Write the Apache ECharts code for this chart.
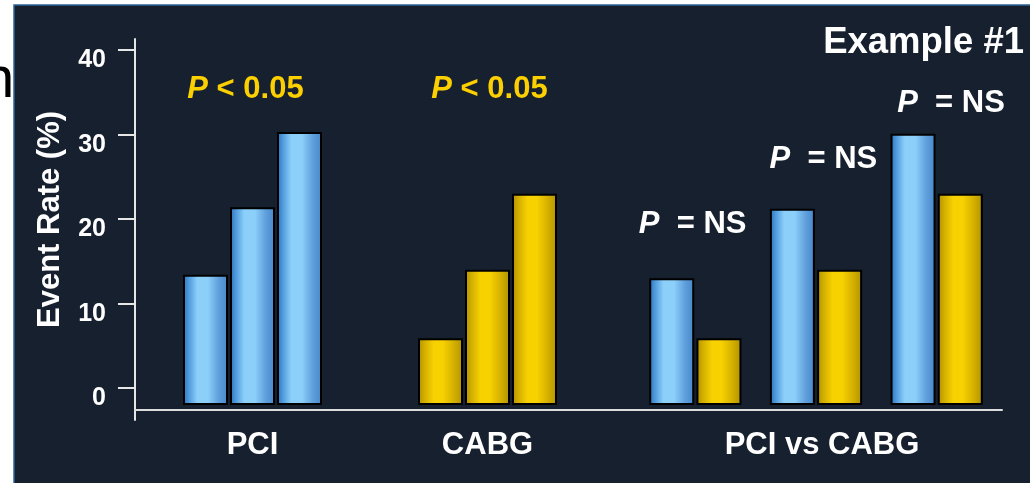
<!DOCTYPE html>
<html><head><meta charset="utf-8">
<script src="https://cdn.jsdelivr.net/npm/echarts@6/dist/echarts.min.js"></script>
<style>html,body{margin:0;padding:0;background:#fff;}#c{width:1030px;height:483px;}</style>
</head><body><div id="c"></div>
<script>
// ---- data ----
const groupNames = ['PCI', 'CABG', 'PCI vs CABG'];
const barSlots = ['1', '2', '3'];
const yTicks = [0, 10, 20, 30, 40];
const pciValues = [13.4, 21.4, 30.3];
const cabgValues = [5.9, 14.0, 23.0];
const compPciValues = [13.0, 21.2, 30.1];
const compCabgValues = [5.9, 14.0, 23.0];
const groupPText = ['< 0.05', '< 0.05'];
const pairPText = [' = NS', ' = NS', ' = NS'];
const yAxisTitle = 'Event Rate (%)';
const chartTitle = 'Example #1';

// ---- layout ----
const FONT = 'Liberation Sans, Arial, sans-serif';
const Y_MAX = 41.3, Y_MIN_AXIS = -3.79, Y_MIN = -2.6, BAR_START = -2.0;
const groupPLevel = 35.3;
const groupPOffset = [-7, 2];
const pairPLevels = [19.4, 27.1, 33.7];
const pairPOffset = [21, 31, 38];

const blueGrad = new echarts.graphic.LinearGradient(0, 0, 1, 0, [
  {offset: 0, color: '#2770bc'}, {offset: 0.12, color: '#4d98da'},
  {offset: 0.32, color: '#8cd0fa'}, {offset: 0.55, color: '#8cd0fa'},
  {offset: 0.8, color: '#5f9edb'}, {offset: 1, color: '#4587c9'}]);
const yellowGrad = new echarts.graphic.LinearGradient(0, 0, 1, 0, [
  {offset: 0, color: '#b08f00'}, {offset: 0.15, color: '#d4b000'},
  {offset: 0.35, color: '#f8d200'}, {offset: 0.55, color: '#f8d200'},
  {offset: 0.8, color: '#d4b000'}, {offset: 1, color: '#b09200'}]);

function pLabel(rest) {
  return '{i|P}{t| ' + rest + '}';
}
function richFor(color) {
  return {
    i: {fontFamily: FONT, fontSize: 31, fontWeight: 'bold', fontStyle: 'italic', color: color},
    t: {fontFamily: FONT, fontSize: 31, fontWeight: 'bold', color: color}
  };
}
function hiddenY(grid) {
  return {type: 'value', gridIndex: grid, min: Y_MIN, max: Y_MAX, startValue: BAR_START,
          axisLine: {show: false}, axisTick: {show: false}, axisLabel: {show: false}, splitLine: {show: false}};
}
function groupX(grid, name, cats, pad) {
  return {type: 'category', gridIndex: grid, data: cats, name: name, nameLocation: 'middle', nameGap: 20,
          nameTextStyle: {color: '#fff', fontSize: 31, fontWeight: 'bold', fontFamily: FONT, padding: pad || 0},
          axisLine: {show: false}, axisTick: {show: false}, axisLabel: {show: false}, splitLine: {show: false}};
}
function markFor(texts, levels, offsets, color, cats) {
  return {
    symbol: 'rect', symbolSize: [1, 1], itemStyle: {color: 'rgba(0,0,0,0)'},
    label: {show: true, position: 'inside', rich: richFor(color)},
    data: texts.map((t, k) => ({
      coord: [cats[k], levels[k]],
      label: {formatter: pLabel(t), offset: [offsets[k], 0]}
    }))
  };
}
const itemBase = {borderColor: '#000', borderWidth: 2};

const option = {
  backgroundColor: '#ffffff',
  animation: false,
  title: {text: chartTitle, right: 1, top: 19,
          textStyle: {color: '#fff', fontSize: 36.5, fontWeight: 'bold', fontFamily: FONT}},
  graphic: [
    {type: 'text', z: -20, left: -18, top: 52,
     style: {text: 'n', fill: '#000', font: '58px ' + FONT}},
    {type: 'rect', z: -10, shape: {x: 14, y: 5, width: 1020, height: 482},
     style: {fill: '#16202e', stroke: '#2d6496', lineWidth: 1.5}}
  ],
  grid: [
    {left: 135, right: 28, top: 39, bottom: 63},
    {left: 135, right: 28, top: 39, bottom: 73},
    {left: 182, width: 141, top: 39, bottom: 73},
    {left: 417, width: 141, top: 39, bottom: 73},
    {left: 635, width: 362, top: 39, bottom: 73}
  ],
  xAxis: [
    {type: 'category', gridIndex: 0, data: [''], show: false},
    {type: 'category', gridIndex: 1, data: [''],
     axisLine: {onZero: false, lineStyle: {color: '#dcdcdc', width: 2}}, axisTick: {show: false}, axisLabel: {show: false}},
    groupX(2, groupNames[0], barSlots),
    groupX(3, groupNames[1], barSlots),
    groupX(4, groupNames[2], barSlots, [0, 0, 0, 12])
  ],
  yAxis: [
    {type: 'value', gridIndex: 0, min: Y_MIN_AXIS, max: Y_MAX,
     axisLine: {show: true, lineStyle: {color: '#e6e6e6', width: 2}},
     axisTick: {show: true, customValues: yTicks, length: 17, lineStyle: {color: '#e6e6e6', width: 2}},
     axisLabel: {customValues: yTicks, color: '#fff', fontSize: 25, fontWeight: 'bold', fontFamily: FONT, margin: 29,
                 verticalAlign: 'top', lineHeight: 21},
     splitLine: {show: false}},
    {type: 'value', gridIndex: 1, min: Y_MIN, max: Y_MAX, name: yAxisTitle, nameLocation: 'middle', nameRotate: 90, nameGap: 69,
     nameTextStyle: {color: '#fff', fontSize: 31, fontWeight: 'bold', fontFamily: FONT, padding: [0, 0, 0, 10]},
     axisLine: {show: false}, axisTick: {show: false}, axisLabel: {show: false}, splitLine: {show: false}},
    hiddenY(2), hiddenY(3), hiddenY(4)
  ],
  series: [
    {type: 'bar', xAxisIndex: 2, yAxisIndex: 2, data: pciValues, barWidth: 45,
     itemStyle: Object.assign({color: blueGrad}, itemBase),
     markPoint: markFor(groupPText.slice(0, 1), [groupPLevel], [groupPOffset[0]], '#fcd000', [barSlots[1]])},
    {type: 'bar', xAxisIndex: 3, yAxisIndex: 3, data: cabgValues, barWidth: 45,
     itemStyle: Object.assign({color: yellowGrad}, itemBase),
     markPoint: markFor(groupPText.slice(1, 2), [groupPLevel], [groupPOffset[1]], '#fcd000', [barSlots[1]])},
    {type: 'bar', xAxisIndex: 4, yAxisIndex: 4, data: compPciValues, barWidth: 45, barGap: '5%',
     itemStyle: Object.assign({color: blueGrad}, itemBase),
     markPoint: markFor(pairPText, pairPLevels, pairPOffset, '#ffffff', barSlots)},
    {type: 'bar', xAxisIndex: 4, yAxisIndex: 4, data: compCabgValues, barWidth: 45, barGap: '5%',
     itemStyle: Object.assign({color: yellowGrad}, itemBase)}
  ]
};
const chart = echarts.init(document.getElementById('c'));
chart.setOption(option);
</script></body></html>
